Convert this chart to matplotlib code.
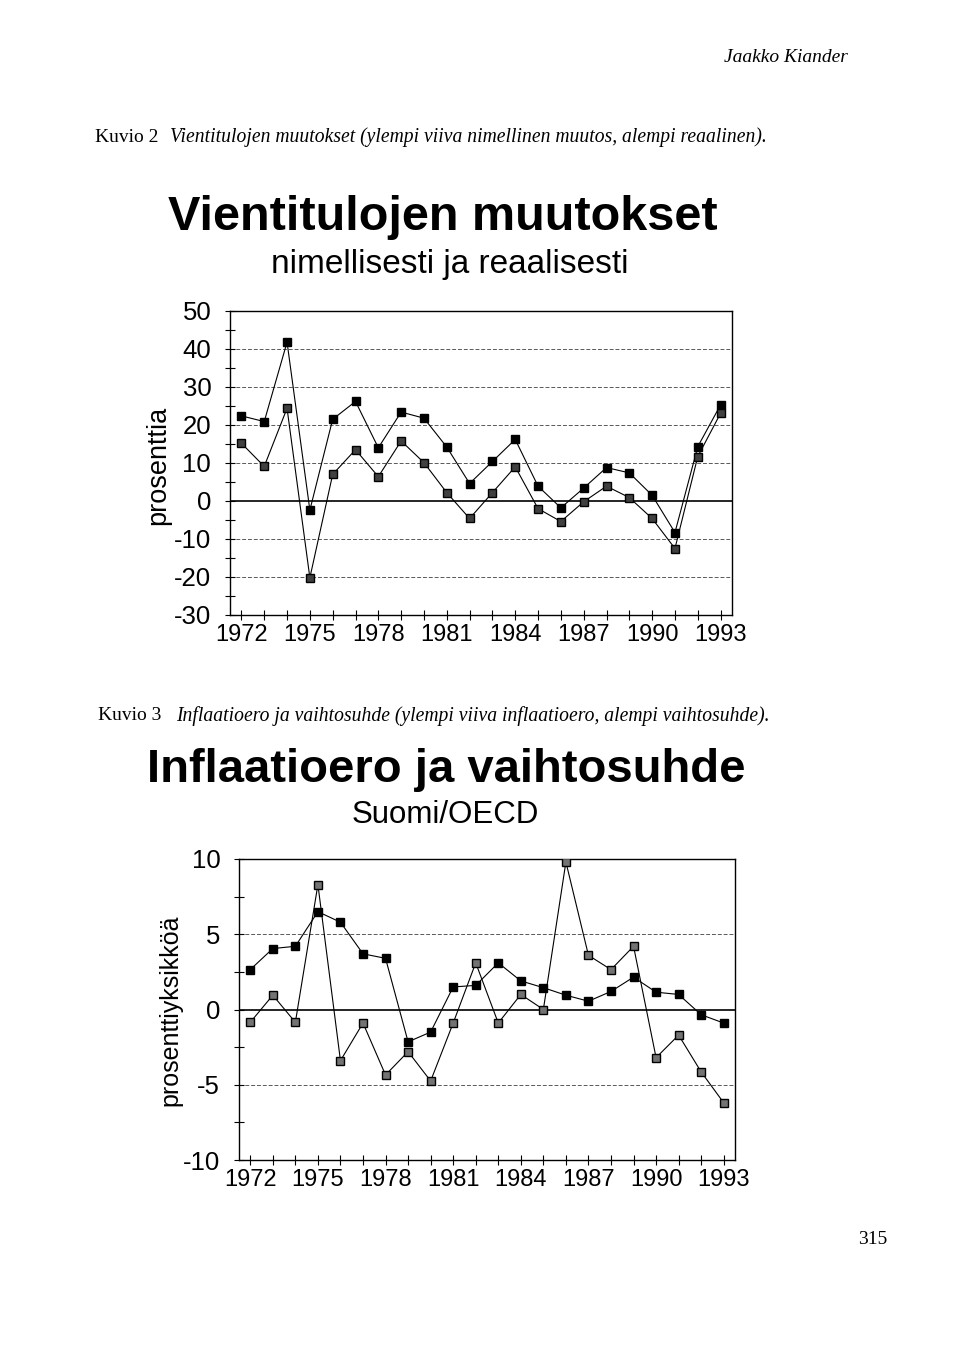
import matplotlib.pyplot as plt
from matplotlib.ticker import MultipleLocator

plt.rcParams['font.family'] = ['Liberation Sans', 'DejaVu Sans']
plt.rcParams['axes.unicode_minus'] = False  # tavallinen miinusmerkki kuten alkuperäisessä

W, H = 960, 1357

# Kuvio 2: vientitulojen muutokset (%)
years = list(range(1972, 1994))
nimellinen = [22.4, 20.9, 41.8, -2.4, 21.5, 26.2, 14.0, 23.4, 21.8, 14.2, 4.6,
              10.4, 16.2, 3.9, -1.8, 3.4, 8.8, 7.4, 1.5, -8.3, 14.3, 25.3]
reaalinen = [15.2, 9.1, 24.4, -20.2, 7.0, 13.5, 6.4, 15.8, 10.1, 2.2, -4.6,
             2.2, 9.0, -2.0, -5.4, -0.2, 3.9, 0.9, -4.6, -12.5, 11.7, 23.1]

# Kuvio 3: inflaatioero ja vaihtosuhde (prosenttiyksikköä)
inflaatioero = [2.65, 4.05, 4.2, 6.5, 5.8, 3.7, 3.4, -2.15, -1.5, 1.5, 1.6,
                3.1, 1.9, 1.45, 0.95, 0.55, 1.2, 2.15, 1.15, 1.0, -0.35, -0.9]
vaihtosuhde = [-0.85, 0.95, -0.85, 8.3, -3.4, -0.9, -4.35, -2.8, -4.75, -0.9, 3.1,
               -0.9, 1.0, 0.0, 9.8, 3.6, 2.65, 4.2, -3.2, -1.7, -4.15, -6.2]

label_years = list(range(1972, 1994, 3))


def fy(y):
    # pikselirivi -> kuvan koordinaatti
    return 1 - y / H


def box(left, top, right, bottom):
    return [left / W, 1 - bottom / H, (right - left) / W, (bottom - top) / H]


def style_axes(ax, ylim, major, minor, gridvals):
    ax.set_xlim(1971.5, 1993.5)
    ax.set_ylim(*ylim)
    ax.set_xticks(label_years)
    ax.set_xticks(years, minor=True)
    ax.yaxis.set_major_locator(MultipleLocator(major))
    ax.yaxis.set_minor_locator(MultipleLocator(minor))
    ax.tick_params(axis='both', which='both', direction='inout', length=7, width=0.8)
    ax.tick_params(axis='x', labelsize=17, pad=3)
    ax.tick_params(axis='y', labelsize=18.5, pad=10)
    for g in gridvals:
        ax.axhline(g, color='0.35', lw=0.7, ls=(0, (4, 2)), zorder=1)
    ax.axhline(0, color='black', lw=1.2, zorder=1)
    for s in ax.spines.values():
        s.set_linewidth(1.0)


fig = plt.figure(figsize=(W / 100, H / 100), dpi=100)

# sivun tekstit
fig.text(848 / W, fy(57), 'Jaakko Kiander', family='Liberation Serif', style='italic',
         fontsize=14, ha='right', va='center')
fig.text(95 / W, fy(137), 'Kuvio 2', family='Liberation Serif', fontsize=14,
         ha='left', va='center')
fig.text(170 / W, fy(137), 'Vientitulojen muutokset (ylempi viiva nimellinen muutos, alempi reaalinen).',
         family='Liberation Serif', style='italic', fontsize=14.1, ha='left', va='center')

fig.text(443 / W, fy(218), 'Vientitulojen muutokset', fontsize=35, fontweight='bold',
         ha='center', va='center')
fig.text(450 / W, fy(265), 'nimellisesti ja reaalisesti', fontsize=24, ha='center', va='center')

# ensimmäinen kuvio
ax1 = fig.add_axes(box(230, 311, 732, 615))
ax1.plot(years, nimellinen, color='black', lw=0.8, marker='s', ms=5.5, mfc='black', mec='black', zorder=3)
ax1.plot(years, reaalinen, color='black', lw=0.8, marker='s', ms=5.5, mfc='0.25', mec='black', zorder=3)
style_axes(ax1, (-30, 50), 10, 5, [40, 30, 20, 10, -10, -20])
fig.text(158 / W, fy(465), 'prosenttia', fontsize=19.5, rotation=90, ha='center', va='center')

fig.text(98 / W, fy(716), 'Kuvio 3', family='Liberation Serif', fontsize=14,
         ha='left', va='center')
fig.text(176 / W, fy(716), 'Inflaatioero ja vaihtosuhde (ylempi viiva inflaatioero, alempi vaihtosuhde).',
         family='Liberation Serif', style='italic', fontsize=14.1, ha='left', va='center')

fig.text(446 / W, fy(770), 'Inflaatioero ja vaihtosuhde', fontsize=34, fontweight='bold',
         ha='center', va='center')
fig.text(445 / W, fy(815), 'Suomi/OECD', fontsize=22.5, ha='center', va='center')

# toinen kuvio
ax2 = fig.add_axes(box(239, 859, 735, 1160))
ax2.plot(years, inflaatioero, color='black', lw=0.8, marker='s', ms=5.5, mfc='black', mec='black', zorder=3)
ax2.plot(years, vaihtosuhde, color='black', lw=0.8, marker='s', ms=5.5, mfc='0.45', mec='black', zorder=3)
style_axes(ax2, (-10, 10), 5, 2.5, [5, -5])
fig.text(170 / W, fy(1010), 'prosenttiyksikköä', fontsize=18, rotation=90, ha='center', va='center')

fig.text(873 / W, fy(1240), '315', family='Liberation Serif', fontsize=14, ha='center', va='center')

plt.savefig('out.png', dpi=100)
